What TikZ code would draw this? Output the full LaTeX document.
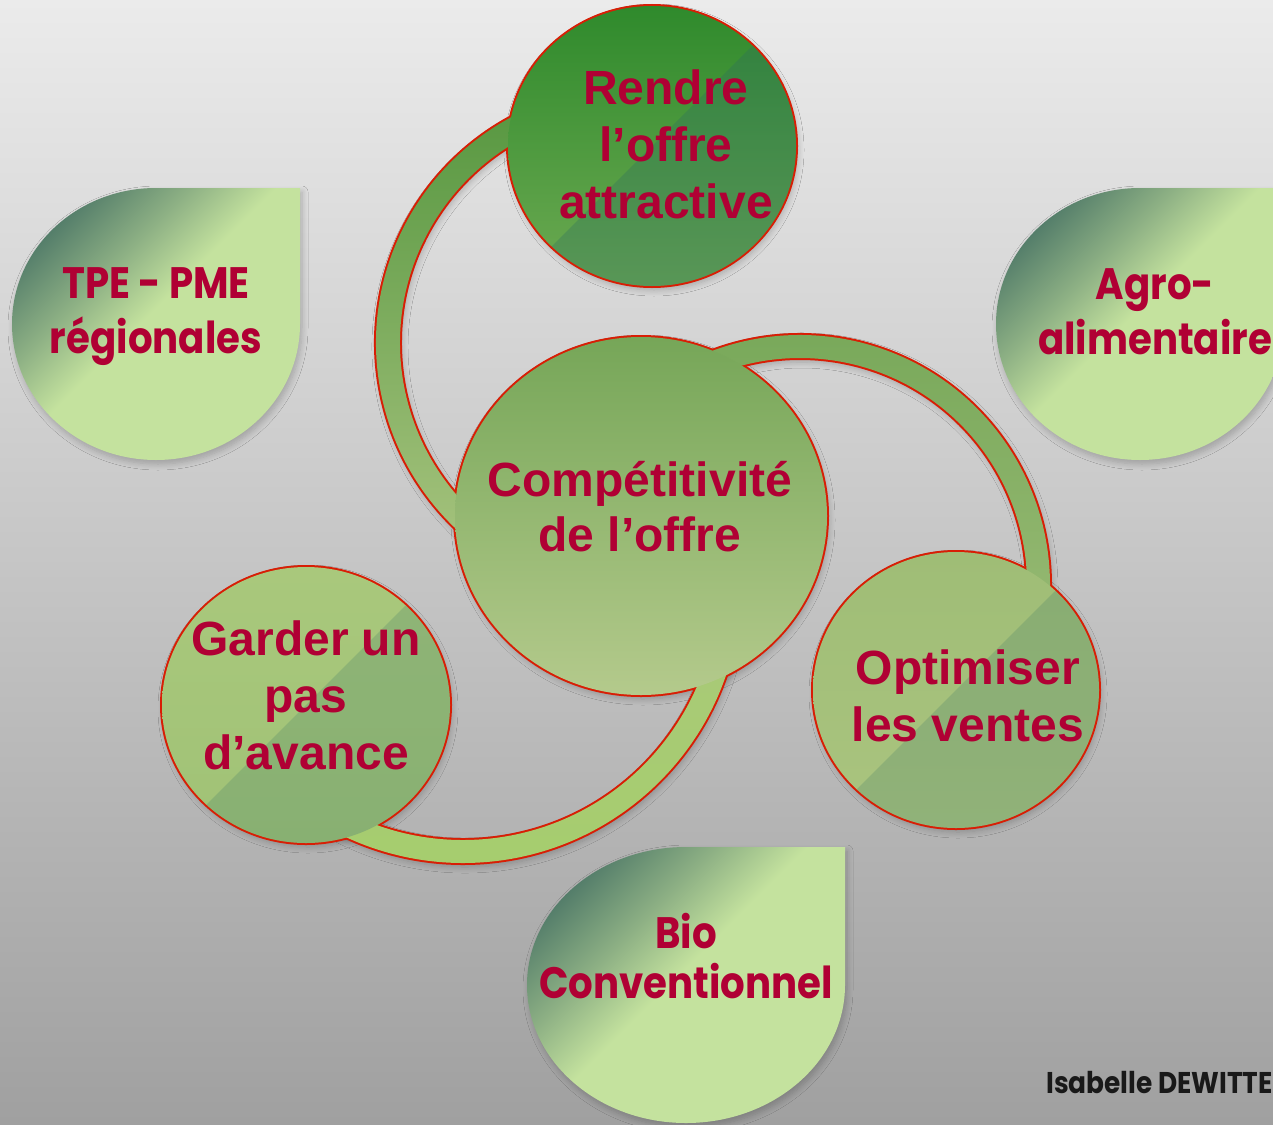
\documentclass[tikz,border=0pt]{standalone}
\usepackage{fontspec}
\setmainfont{Liberation Sans}
\newfontfamily\leaffont[FakeStretch=0.88]{Poppins}
\usetikzlibrary{calc,shadows.blur}

\definecolor{crim}{HTML}{B00034}
\definecolor{rim}{HTML}{D81E05}
\definecolor{bgtop}{HTML}{EBEBEB}
\definecolor{bgbot}{HTML}{A0A0A0}
\definecolor{leaflt}{HTML}{C4E29E}
\definecolor{leafmd}{HTML}{8DB084}
\definecolor{leafdk}{HTML}{3E6A60}
\definecolor{tealish}{HTML}{2C6B63}
\definecolor{bandAtop}{HTML}{55963F}
\definecolor{bandAbot}{HTML}{A8C47F}
\definecolor{bandBtop}{HTML}{76A758}
\definecolor{bandBbot}{HTML}{98BA74}
\definecolor{bandCtop}{HTML}{A9C97A}
\definecolor{bandCbot}{HTML}{A6CD6E}
\definecolor{rendretop}{HTML}{2F8A2C}
\definecolor{rendrebot}{HTML}{6DAA52}
\definecolor{centretop}{HTML}{76A658}
\definecolor{centrebot}{HTML}{B4CA8C}
\definecolor{gardertop}{HTML}{A9C87C}
\definecolor{garderbot}{HTML}{A0C276}
\definecolor{optimtop}{HTML}{9FBD76}
\definecolor{optimbot}{HTML}{AAC47F}

% leaf gradient: light green body, dark teal corner
\pgfdeclareverticalshading{leafshade}{100bp}{color(0bp)=(leaflt); color(52bp)=(leaflt); color(63bp)=(leafmd); color(80bp)=(leafdk); color(100bp)=(leafdk)}

% leaf outline: circle with a square top-right corner
\newcommand{\leafpath}[4]{(#1,#2-#4) -- (#1+#3,#2-#4) -- (#1+#3,#2) arc[start angle=0,end angle=270,x radius=#3,y radius=#4] -- cycle}

% circles
\newcommand{\rendrepath}{(652,146) ellipse [x radius=144, y radius=140]}
\newcommand{\centrepath}{(641,516) ellipse [x radius=186, y radius=179]}
\newcommand{\garderpath}{(306,705) ellipse [x radius=144, y radius=138]}
\newcommand{\optimpath}{(956,690) ellipse [x radius=143, y radius=138]}

% curved bands joining the circles
\newcommand{\bandApath}{($(632,343)+(-100:256)$) arc[start angle=-100,end angle=-240,radius=256] -- ($(632,343)+(-240:232)$) arc[start angle=-240,end angle=-100,radius=232] -- cycle}
\newcommand{\bandBpath}{($(800,585)+(-125:250)$) arc[start angle=-125,end angle=15,radius=250] -- ($(800,585)+(15:227)$) arc[start angle=15,end angle=-125,radius=227] -- cycle}
\newcommand{\bandCpath}{($(463,585)+(0:278)$) arc[start angle=0,end angle=130,radius=278] -- ($(463,585)+(130:255)$) arc[start angle=130,end angle=0,radius=255] -- cycle}

% darker half below the diagonal through a circle centre
\newcommand{\sheenpath}[2]{(#1-320,#2+320) -- (#1+320,#2-320) -- (#1+320,#2+320) -- cycle}

\tikzset{
  softshadow/.style={blur shadow={shadow xshift=2pt, shadow yshift=-4pt, shadow blur radius=6pt, shadow blur steps=8, shadow opacity=22}},
  rimline/.style={draw=rim, line width=4pt},
  lbl/.style={font=\bfseries\fontsize{48}{57}\selectfont, align=center, text=crim, inner sep=0pt},
  leaflbl/.style={font=\leaffont\bfseries\fontsize{44}{55}\selectfont, align=center, text=crim, inner sep=0pt},
  sheen/.style={fill=tealish, fill opacity=#1},
}

\begin{document}
\begin{tikzpicture}[x=1pt,y=-1pt]
\useasboundingbox (0,0) rectangle (1273,1124);
\fill[top color=bgtop, bottom color=bgbot] (0,0) rectangle (1273,1124);
\clip (0,0) rectangle (1273,1124);

% leaves
\shade[softshadow, shading=leafshade, shading angle=45] \leafpath{156}{324}{144}{136};
\shade[softshadow, shading=leafshade, shading angle=45] \leafpath{1140}{324}{144}{136};
\shade[softshadow, shading=leafshade, shading angle=45] \leafpath{686}{985}{159}{138};

% shadows under bands and circles
\path[softshadow] \bandApath;
\path[softshadow] \bandBpath;
\path[softshadow] \bandCpath;
\path[softshadow] \rendrepath;
\path[softshadow] \centrepath;
\path[softshadow] \garderpath;
\path[softshadow] \optimpath;

% red rim of the whole group (inner half covered by the fills)
\path[rimline] \bandApath;
\path[rimline] \bandBpath;
\path[rimline] \bandCpath;
\path[rimline] \rendrepath;
\path[rimline] \centrepath;
\path[rimline] \garderpath;
\path[rimline] \optimpath;

% band fills
\shade[top color=bandAtop, bottom color=bandAbot] \bandApath;
\shade[top color=bandBtop, bottom color=bandBbot] \bandBpath;
\shade[top color=bandCtop, bottom color=bandCbot] \bandCpath;

% circle fills
\shade[top color=rendretop, bottom color=rendrebot] \rendrepath;
\begin{scope}
  \clip \rendrepath;
  \fill[sheen=0.3] \sheenpath{652}{146};
\end{scope}
\shade[top color=centretop, bottom color=centrebot] \centrepath;
\shade[top color=gardertop, bottom color=garderbot] \garderpath;
\begin{scope}
  \clip \garderpath;
  \fill[sheen=0.2] \sheenpath{306}{705};
\end{scope}
\shade[top color=optimtop, bottom color=optimbot] \optimpath;
\begin{scope}
  \clip \optimpath;
  \fill[sheen=0.2] \sheenpath{956}{690};
\end{scope}

% circle labels
\node[lbl] (rendre) at (666,144) {Rendre\\l’offre\\attractive};
\node[lbl, font=\bfseries\fontsize{48}{55}\selectfont] (centre) at (640,507) {Compétitivité\\de l’offre};
\node[lbl] (garder) at (306,695) {Garder un\\pas\\d’avance};
\node[lbl] (optim) at (968,696) {Optimiser\\les ventes};

% leaf labels
\node[leaflbl] (tpe) at (156,317) {TPE - PME\\régionales};
\node[leaflbl] (agro) at (1155,312) {Agro-\\alimentaire};
\node[leaflbl, font=\leaffont\bfseries\fontsize{44}{50}\selectfont] (bio) at (686,956) {Bio\\Conventionnel};

% author
\node[font=\leaffont\bfseries\fontsize{30}{36}\selectfont, text=black!90, inner sep=0pt, anchor=base east] (author) at (1273,1093) {Isabelle DEWITTE};
\end{tikzpicture}
\end{document}
